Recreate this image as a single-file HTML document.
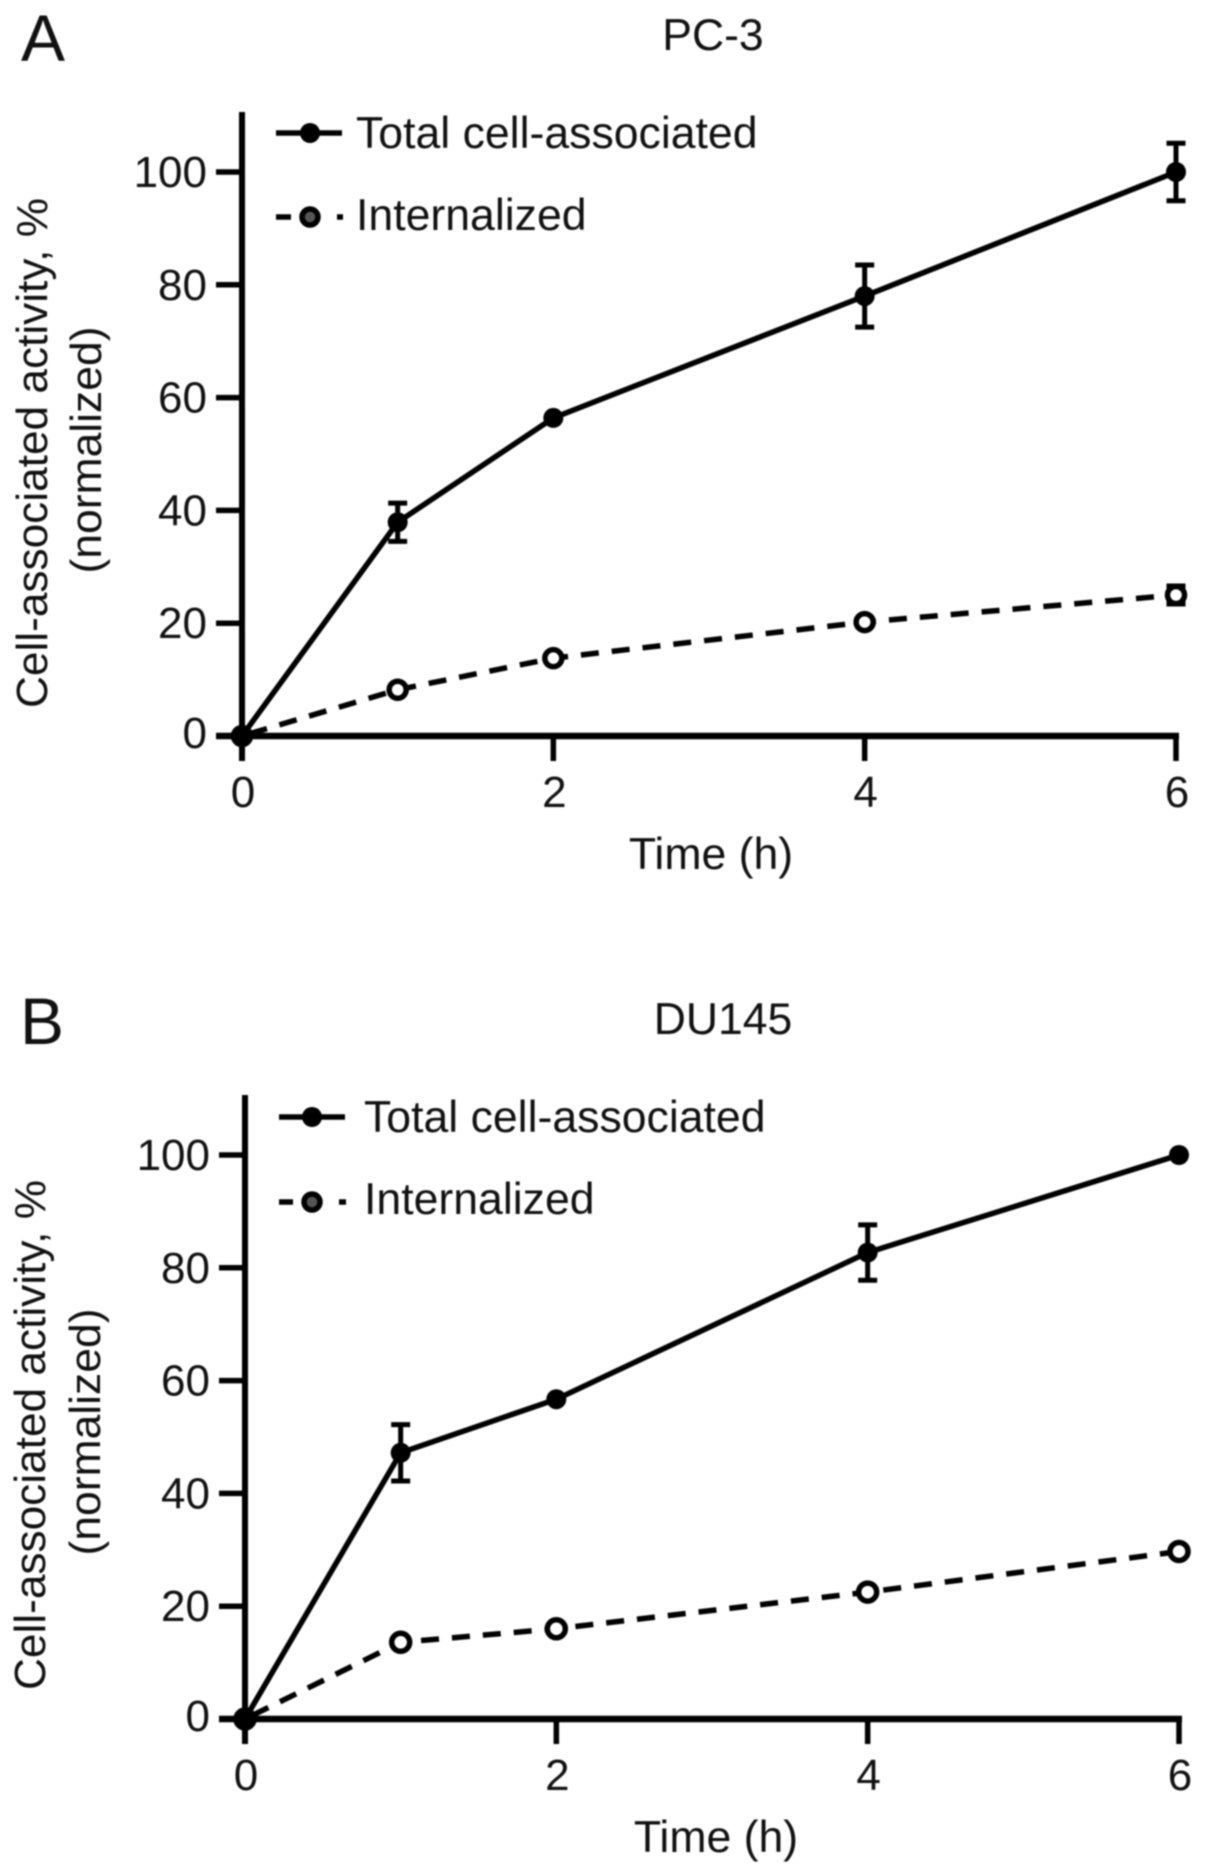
<!DOCTYPE html>
<html lang="en">
<head>
<meta charset="utf-8">
<title>Cell-associated activity: PC-3 and DU145</title>
<style>
html,body{margin:0;padding:0;background:#fff;width:1205px;height:1876px;overflow:hidden}
svg{display:block;filter:blur(0.7px)}
text{font-family:"Liberation Sans",Arial,sans-serif;fill:#111}
</style>
</head>
<body>
<svg id="chart" xmlns="http://www.w3.org/2000/svg" width="1205" height="1876" viewBox="0 0 1205 1876">
  <rect x="0" y="0" width="1205" height="1876" fill="#ffffff"/>

  <text x="21" y="61" font-size="66">A</text>
  <text x="713" y="50" font-size="44.5" text-anchor="middle">PC-3</text>
  <g font-size="44" text-anchor="middle">
    <text transform="translate(47,453) rotate(-90)" textLength="510" lengthAdjust="spacingAndGlyphs">Cell-associated activity, %</text>
    <text transform="translate(101,450) rotate(-90)" textLength="247" lengthAdjust="spacingAndGlyphs">(normalized)</text>
  </g>
  <text x="711" y="869" font-size="44.6" text-anchor="middle">Time (h)</text>
  <g id="panelA"></g>
  <g>
    <g>
      <line x1="276" x2="342" y1="133" y2="133" stroke="#000" stroke-width="5.5"/>
      <circle cx="310" cy="133" r="10" fill="#000"/>
      <text x="356" y="148" font-size="44.6">Total cell-associated</text>
    </g>
    <g>
      <line x1="276" x2="291" y1="217" y2="217" stroke="#000" stroke-width="5.5"/>
      <line x1="337" x2="343" y1="217" y2="217" stroke="#000" stroke-width="5.5"/>
      <circle cx="310" cy="217" r="8" fill="#555" stroke="#000" stroke-width="5.5"/>
      <text x="356" y="230" font-size="44.6">Internalized</text>
    </g>
  </g>

  <text x="20" y="1044" font-size="66">B</text>
  <text x="723" y="1034" font-size="44.5" text-anchor="middle">DU145</text>
  <g font-size="44" text-anchor="middle">
    <text transform="translate(45,1435) rotate(-90)" textLength="510" lengthAdjust="spacingAndGlyphs">Cell-associated activity, %</text>
    <text transform="translate(100,1432) rotate(-90)" textLength="247" lengthAdjust="spacingAndGlyphs">(normalized)</text>
  </g>
  <text x="716" y="1852" font-size="44.6" text-anchor="middle">Time (h)</text>
  <g id="panelB"></g>
  <g>
    <g>
      <line x1="279" x2="345" y1="1117" y2="1117" stroke="#000" stroke-width="5.5"/>
      <circle cx="312" cy="1117" r="10" fill="#000"/>
      <text x="364" y="1132" font-size="44.6">Total cell-associated</text>
    </g>
    <g>
      <line x1="279" x2="293" y1="1202" y2="1202" stroke="#000" stroke-width="5.5"/>
      <line x1="339" x2="346" y1="1202" y2="1202" stroke="#000" stroke-width="5.5"/>
      <circle cx="312" cy="1202" r="8" fill="#555" stroke="#000" stroke-width="5.5"/>
      <text x="364" y="1214" font-size="44.6">Internalized</text>
    </g>
  </g>
</svg>
<script>
var hours = [0, 1, 2, 4, 6];
var xTickValues = [0, 2, 4, 6];
var yTickValues = [0, 20, 40, 60, 80, 100];
var totalA = [0, 37.9, 56.4, 78, 100];
var totalErrA = [0, 3.4, 0, 5.5, 5.1];
var internalA = [0, 8.2, 13.8, 20.2, 25];
var internalErrA = [0, 0, 0, 0, 1.6];
var totalB = [0, 47.2, 56.7, 82.7, 100];
var totalErrB = [0, 5, 0, 4.9, 0];
var internalB = [0, 13.6, 16, 22.5, 29.7];
var internalErrB = [0, 0, 0, 0, 0];

var NS = 'http://www.w3.org/2000/svg';
function make(tag, attrs, parent) {
  var el = document.createElementNS(NS, tag);
  for (var k in attrs) el.setAttribute(k, attrs[k]);
  parent.appendChild(el);
  return el;
}
function drawPanel(group, frame, total, totalErr, internal, internalErr) {
  function sx(v) { return frame.x0 + (frame.x6 - frame.x0) * v / 6; }
  function sy(v) { return frame.y0 + (frame.y100 - frame.y0) * v / 100; }

  yTickValues.forEach(function (v) {
    var tick = make('line', {x1: frame.x0 - 26, x2: frame.x0, y1: sy(v), y2: sy(v), stroke: '#000', 'stroke-width': 5.5}, group);
    
    
    var label = make('text', {x: frame.x0 - 35, y: sy(v) + (v === 0 ? 12 : 15), 'font-size': 44, 'text-anchor': 'end'}, group);
    label.textContent = String(v);
    
    
  });
  xTickValues.forEach(function (v) {
    var tick = make('line', {x1: sx(v), x2: sx(v), y1: frame.y0, y2: frame.y0 + 25, stroke: '#000', 'stroke-width': 5.5}, group);
    
    
    var label = make('text', {x: sx(v) + 1, y: frame.y0 + 71, 'font-size': 44, 'text-anchor': 'middle'}, group);
    label.textContent = String(v);
    
    
  });
  var yAxis = make('line', {x1: frame.x0, x2: frame.x0, y1: frame.top, y2: frame.y0 + 25, stroke: '#000', 'stroke-width': 6}, group);
  
  
  var xAxis = make('line', {x1: frame.x0 - 26, x2: frame.x6 + 3, y1: frame.y0, y2: frame.y0, stroke: '#000', 'stroke-width': 6.5}, group);
  
  

  function points(values) {
    return values.map(function (v, i) { return sx(hours[i]) + ',' + sy(v); }).join(' ');
  }
  function errorBar(i, value, err) {
    if (!err) return;
    var x = sx(hours[i]);
    var d = 'M' + x + ' ' + sy(value - err) + 'V' + sy(value + err) +
      'M' + (x - 9.5) + ' ' + sy(value + err) + 'H' + (x + 9.5) +
      'M' + (x - 9.5) + ' ' + sy(value - err) + 'H' + (x + 9.5);
    var bar = make('path', {d: d, fill: 'none', stroke: '#000', 'stroke-width': 5}, group);
    
    
  }

  var internalLine = make('polyline', {points: points(internal), fill: 'none', stroke: '#000', 'stroke-width': 5.5, 'stroke-dasharray': '18 13', 'stroke-dashoffset': '-8'}, group);
  
  
  internal.forEach(function (v, i) {
    errorBar(i, v, internalErr[i]);
    var point = make('circle', {cx: sx(hours[i]), cy: sy(v), r: frame.hollowR, fill: '#fff', stroke: '#000', 'stroke-width': 5.5}, group);
    
    
  });

  var totalLine = make('polyline', {points: points(total), fill: 'none', stroke: '#000', 'stroke-width': 5.5}, group);
  
  
  total.forEach(function (v, i) {
    errorBar(i, v, totalErr[i]);
    var point = make('circle', {cx: sx(hours[i]), cy: sy(v), r: 10, fill: '#000'}, group);
    
    
  });
}
drawPanel(document.getElementById('panelA'), {x0: 242, x6: 1176, y0: 736, y100: 172, top: 112, hollowR: 8.5}, totalA, totalErrA, internalA, internalErrA);
drawPanel(document.getElementById('panelB'), {x0: 245, x6: 1179, y0: 1719, y100: 1155, top: 1095, hollowR: 9}, totalB, totalErrB, internalB, internalErrB);
</script>
</body>
</html>
